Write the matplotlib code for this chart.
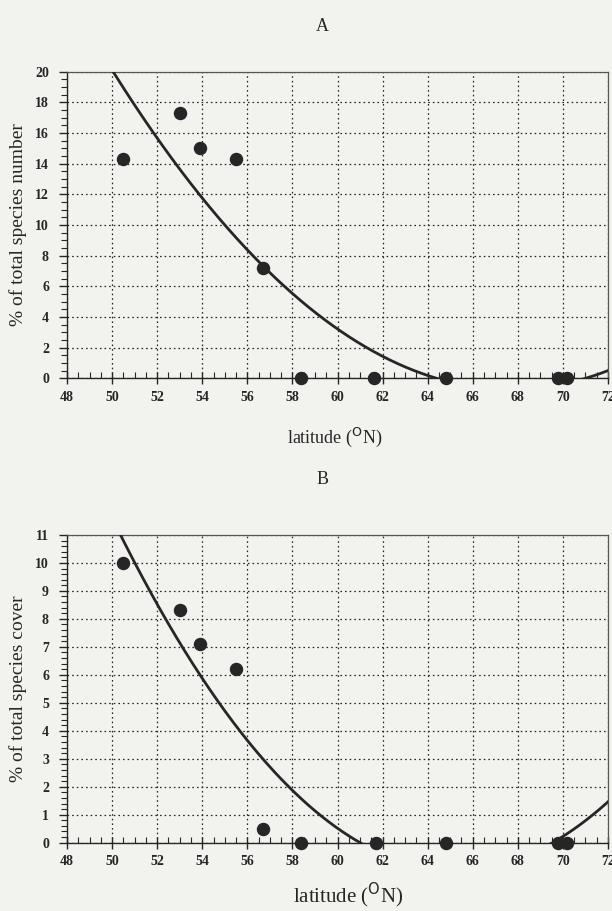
"""Latitude trend of species share, two panels (number and cover)."""

import matplotlib
import numpy as np

matplotlib.use("Agg")
from matplotlib import pyplot as plt
from matplotlib.ticker import MultipleLocator

# -------------------------------------------------------------------------
# Data
# -------------------------------------------------------------------------
lat_a = [50.5, 53.0, 53.9, 55.5, 56.7, 58.4, 61.6, 64.8, 69.8, 70.2]
number_pct = [14.3, 17.3, 15.0, 14.3, 7.2, 0.0, 0.0, 0.0, 0.0, 0.0]

lat_b = [50.5, 53.0, 53.9, 55.5, 56.7, 58.4, 61.7, 64.8, 69.8, 70.2]
cover_pct = [10.0, 8.3, 7.1, 6.2, 0.5, 0.0, 0.0, 0.0, 0.0, 0.0]

# quadratic fits, written as scale * (x - r1) * (x - r2)
fit_a_scale, fit_a_roots = 0.0665, [64.4, 71.0]
fit_b_scale, fit_b_roots = 0.054, [61.0, 69.54]

x_ticks = [48, 50, 52, 54, 56, 58, 60, 62, 64, 66, 68, 70, 72]

BG = "#f2f2ee"
INK = "#262626"
SERIF = ["Liberation Serif", "DejaVu Serif"]


def draw_panel(ax, lat, values, scale, roots, ymax, ystep, yminor, ylabel):
    ax.set_facecolor(BG)
    ax.set_xlim(48, 72)
    ax.set_ylim(0, ymax)
    ax.set_xticks(x_ticks)
    ax.xaxis.set_minor_locator(MultipleLocator(0.5))
    ax.yaxis.set_major_locator(MultipleLocator(ystep))
    ax.yaxis.set_minor_locator(MultipleLocator(yminor))

    ax.grid(True, which="major", color=INK, linestyle=(0, (1.3, 2.4)), linewidth=0.9)
    ax.set_axisbelow(True)

    xs = np.linspace(48, 72, 400)
    fit = scale * np.poly1d(roots, r=True)
    ax.plot(xs, fit(xs), color=INK, linewidth=2.0, zorder=3)
    ax.scatter(lat, values, s=75, color=INK, zorder=4, clip_on=False)

    for side in ["top", "right"]:
        ax.spines[side].set_color("#555555")
        ax.spines[side].set_linewidth(0.9)
    for side in ["left", "bottom"]:
        ax.spines[side].set_color(INK)
        ax.spines[side].set_linewidth(1.0)

    ax.tick_params(axis="x", which="major", direction="inout", length=8, width=1.0,
                   colors=INK, pad=5)
    ax.tick_params(axis="x", which="minor", direction="in", length=4, width=0.8, colors=INK)
    ax.tick_params(axis="y", which="major", direction="out", length=6, width=1.0,
                   colors=INK, pad=7)
    ax.tick_params(axis="y", which="minor", direction="out", length=4, width=0.8, colors=INK)
    for lab in ax.get_xticklabels() + ax.get_yticklabels():
        lab.set_family(SERIF)
        lab.set_fontsize(10)
        lab.set_fontweight("bold")
        lab.set_color(INK)

    ax.set_ylabel(ylabel, family=SERIF, fontsize=14, color=INK, labelpad=6)


fig = plt.figure(figsize=(6.12, 9.11), dpi=100, facecolor=BG)
ax_a = fig.add_axes([0.1095, 0.5847, 0.884, 0.3366])
ax_b = fig.add_axes([0.1095, 0.0750, 0.884, 0.3378])

draw_panel(ax_a, lat_a, number_pct, fit_a_scale, fit_a_roots, 20, 2, 0.5,
           "% of total species number")
draw_panel(ax_b, lat_b, cover_pct, fit_b_scale, fit_b_roots, 11, 1, 0.2,
           "% of total species cover")

fig.text(0.527, 0.971, "A", family=SERIF, fontsize=13, color=INK, ha="center", va="center")
fig.text(0.527, 0.474, "B", family=SERIF, fontsize=13, color=INK, ha="center", va="center")
fig.text(0.547, 0.520, r"latitude ($^{\mathrm{O}}$N)", family=SERIF, fontsize=13,
         color=INK, ha="center", va="center")
fig.text(0.568, 0.017, r"latitude ($^{\mathrm{O}}$N)", family=SERIF, fontsize=15,
         color=INK, ha="center", va="center")

fig.savefig("out.png", dpi=100, facecolor=fig.get_facecolor())
plt.close(fig)
